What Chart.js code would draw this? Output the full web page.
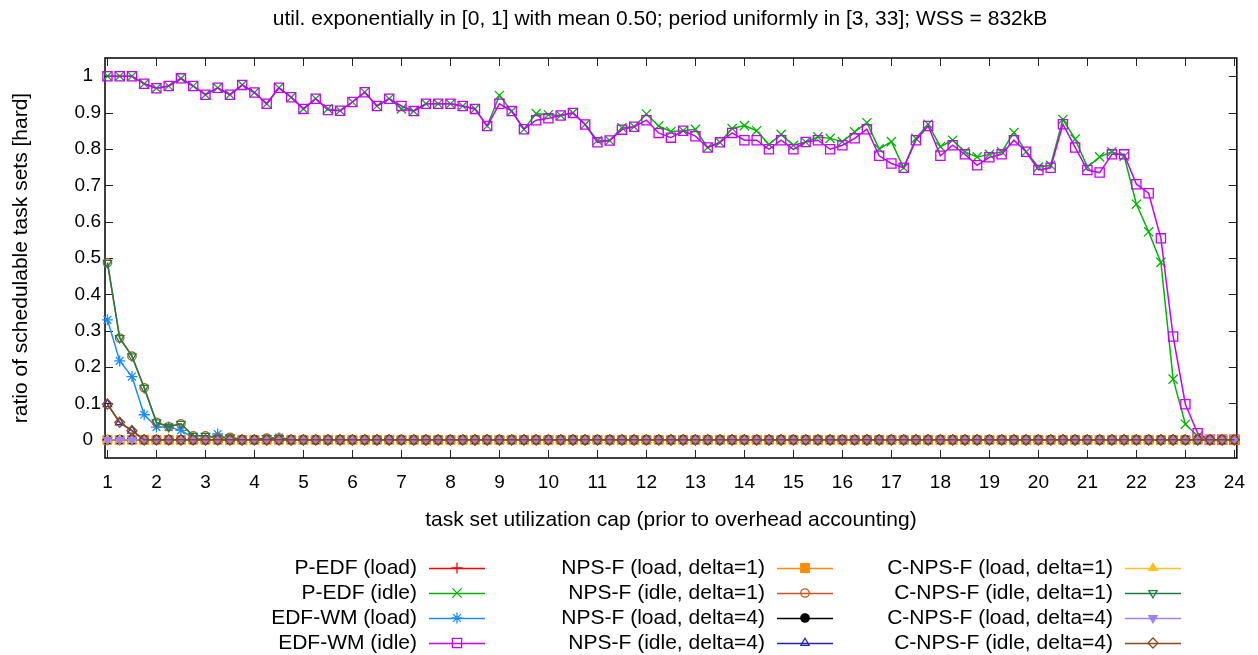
<!DOCTYPE html>
<html>
<head>
<meta charset="utf-8">
<script src="https://cdn.jsdelivr.net/npm/chart.js@4/dist/chart.umd.min.js"></script>
<style>
html,body{margin:0;padding:0;background:#fff;}
#wrap{width:1258px;height:655px;position:relative;}
</style>
</head>
<body>
<div id="wrap"><canvas id="c" width="1258" height="655"></canvas></div>
<script>
// ---------- data ----------
const titleText = "util. exponentially in [0, 1] with mean 0.50; period uniformly in [3, 33]; WSS = 832kB";
const xTitle = "task set utilization cap (prior to overhead accounting)";
const yTitle = "ratio of schedulable task sets [hard]";

const utilCaps = [1,1.25,1.5,1.75,2,2.25,2.5,2.75,3,3.25,3.5,3.75,4,4.25,4.5,4.75,5,5.25,5.5,5.75,6,6.25,6.5,6.75,7,7.25,7.5,7.75,8,8.25,8.5,8.75,9,9.25,9.5,9.75,10,10.25,10.5,10.75,11,11.25,11.5,11.75,12,12.25,12.5,12.75,13,13.25,13.5,13.75,14,14.25,14.5,14.75,15,15.25,15.5,15.75,16,16.25,16.5,16.75,17,17.25,17.5,17.75,18,18.25,18.5,18.75,19,19.25,19.5,19.75,20,20.25,20.5,20.75,21,21.25,21.5,21.75,22,22.25,22.5,22.75,23,23.25,23.5,23.75,24];

const xTicks = [1,2,3,4,5,6,7,8,9,10,11,12,13,14,15,16,17,18,19,20,21,22,23,24];
const yTicks = [0,0.1,0.2,0.3,0.4,0.5,0.6,0.7,0.8,0.9,1];

const zeros = [0,0,0,0,0,0,0,0,0,0,0,0,0,0,0,0,0,0,0,0,0,0,0,0,0,0,0,0,0,0,0,0,0,0,0,0,0,0,0,0,0,0,0,0,0,0,0,0,0,0,0,0,0,0,0,0,0,0,0,0,0,0,0,0,0,0,0,0,0,0,0,0,0,0,0,0,0,0,0,0,0,0,0,0,0,0,0,0,0,0,0,0,0];

const pedfIdle = [1,1,1,0.979,0.967,0.973,0.994,0.973,0.949,0.968,0.949,0.976,0.955,0.924,0.968,0.942,0.910,0.938,0.910,0.905,0.929,0.956,0.918,0.938,0.910,0.904,0.924,0.924,0.924,0.918,0.910,0.863,0.947,0.904,0.854,0.897,0.894,0.892,0.899,0.867,0.823,0.823,0.858,0.861,0.896,0.863,0.848,0.850,0.854,0.804,0.818,0.856,0.864,0.850,0.812,0.840,0.810,0.819,0.833,0.829,0.820,0.847,0.872,0.800,0.820,0.748,0.829,0.868,0.806,0.824,0.792,0.778,0.785,0.792,0.845,0.792,0.750,0.755,0.881,0.827,0.750,0.778,0.792,0.780,0.648,0.572,0.488,0.167,0.043,0.010,0,0,0];

const edfwmIdle = [1,1,1,0.979,0.967,0.973,0.994,0.973,0.949,0.968,0.949,0.976,0.955,0.924,0.968,0.942,0.910,0.938,0.907,0.905,0.929,0.956,0.918,0.938,0.918,0.904,0.924,0.924,0.924,0.918,0.910,0.863,0.924,0.904,0.854,0.879,0.884,0.892,0.899,0.867,0.818,0.823,0.853,0.861,0.879,0.844,0.831,0.850,0.835,0.804,0.818,0.844,0.824,0.824,0.799,0.824,0.799,0.819,0.824,0.799,0.810,0.829,0.854,0.781,0.760,0.748,0.824,0.863,0.781,0.810,0.785,0.755,0.777,0.785,0.824,0.792,0.742,0.748,0.868,0.804,0.742,0.735,0.785,0.785,0.703,0.678,0.554,0.284,0.098,0.018,0,0,0];

const edfwmLoad = [0.330,0.217,0.174,0.069,0.035,0.035,0.026,0.005,0,0.016,0,0,0,0,0.006,0,0,0,0,0,0,0,0,0,0,0,0,0,0,0,0,0,0,0,0,0,0,0,0,0,0,0,0,0,0,0,0,0,0,0,0,0,0,0,0,0,0,0,0,0,0,0,0,0,0,0,0,0,0,0,0,0,0,0,0,0,0,0,0,0,0,0,0,0,0,0,0,0,0,0,0,0,0];

const npsfIdleD1 = [0.487,0.280,0.230,0.143,0.048,0.036,0.044,0.011,0.011,0.005,0.007,0,0,0.005,0.005,0,0,0,0,0,0,0,0,0,0,0,0,0,0,0,0,0,0,0,0,0,0,0,0,0,0,0,0,0,0,0,0,0,0,0,0,0,0,0,0,0,0,0,0,0,0,0,0,0,0,0,0,0,0,0,0,0,0,0,0,0,0,0,0,0,0,0,0,0,0,0,0,0,0,0,0,0,0];

const cnpsfIdleD1 = [0.487,0.280,0.230,0.143,0.048,0.036,0.044,0.011,0.011,0.005,0.007,0,0,0.005,0.005,0,0,0,0,0,0,0,0,0,0,0,0,0,0,0,0,0,0,0,0,0,0,0,0,0,0,0,0,0,0,0,0,0,0,0,0,0,0,0,0,0,0,0,0,0,0,0,0,0,0,0,0,0,0,0,0,0,0,0,0,0,0,0,0,0,0,0,0,0,0,0,0,0,0,0,0,0,0];

const npsfIdleD4 = [0.098,0.048,0.025,0,0,0,0,0,0,0,0,0,0,0,0,0,0,0,0,0,0,0,0,0,0,0,0,0,0,0,0,0,0,0,0,0,0,0,0,0,0,0,0,0,0,0,0,0,0,0,0,0,0,0,0,0,0,0,0,0,0,0,0,0,0,0,0,0,0,0,0,0,0,0,0,0,0,0,0,0,0,0,0,0,0,0,0,0,0,0,0,0,0];

const cnpsfIdleD4 = [0.098,0.048,0.025,0,0,0,0,0,0,0,0,0,0,0,0,0,0,0,0,0,0,0,0,0,0,0,0,0,0,0,0,0,0,0,0,0,0,0,0,0,0,0,0,0,0,0,0,0,0,0,0,0,0,0,0,0,0,0,0,0,0,0,0,0,0,0,0,0,0,0,0,0,0,0,0,0,0,0,0,0,0,0,0,0,0,0,0,0,0,0,0,0,0];

const pedfLoad = zeros;
const npsfLoadD1 = zeros;
const npsfLoadD4 = zeros;
const cnpsfLoadD1 = zeros;
const cnpsfLoadD4 = zeros;

const seriesNames = [
  "P-EDF (load)", "P-EDF (idle)", "EDF-WM (load)", "EDF-WM (idle)",
  "NPS-F (load, delta=1)", "NPS-F (idle, delta=1)", "NPS-F (load, delta=4)", "NPS-F (idle, delta=4)",
  "C-NPS-F (load, delta=1)", "C-NPS-F (idle, delta=1)", "C-NPS-F (load, delta=4)", "C-NPS-F (idle, delta=4)"
];
const seriesValues = [pedfLoad, pedfIdle, edfwmLoad, edfwmIdle, npsfLoadD1, npsfIdleD1, npsfLoadD4, npsfIdleD4, cnpsfLoadD1, cnpsfIdleD1, cnpsfLoadD4, cnpsfIdleD4];

// ---------- styles ----------
const FONT = '"Liberation Sans", Arial, sans-serif';
const FS = 21;      // titles and key
const TFS = 19;     // tick labels
const styles = [
  {c:"#ff0000", ps:"cross",    r:5.5, fill:false, rot:0},
  {c:"#00b400", ps:"crossRot", r:6.5, fill:false, rot:0},
  {c:"#1a8cff", ps:"star",     r:5.5, fill:false, rot:0},
  {c:"#c400ff", ps:"rect",     r:6.5, fill:false, rot:0},
  {c:"#ff8c00", ps:"rect",     r:6,   fill:true,  rot:0},
  {c:"#c8561e", ps:"circle",   r:4.2, fill:false, rot:0},
  {c:"#000000", ps:"circle",   r:4.2, fill:true,  rot:0},
  {c:"#2424b4", ps:"triangle", r:4.8, fill:false, rot:0},
  {c:"#ffc020", ps:"triangle", r:4.8, fill:true,  rot:0},
  {c:"#1e7d46", ps:"triangle", r:4.8, fill:false, rot:180},
  {c:"#a080ff", ps:"triangle", r:4.8, fill:true,  rot:180},
  {c:"#8c4a14", ps:"rectRot",  r:5,   fill:false, rot:0}
];

const datasets = seriesValues.map((vals, i) => {
  const s = styles[i];
  return {
    label: seriesNames[i],
    data: utilCaps.map((x, k) => ({x: x, y: vals[k]})),
    borderColor: s.c,
    backgroundColor: s.c,
    borderWidth: 1.5,
    pointStyle: s.ps,
    pointRadius: s.r,
    pointHoverRadius: s.r,
    pointRotation: s.rot,
    pointBorderColor: s.c,
    pointBackgroundColor: s.fill ? s.c : "rgba(0,0,0,0)",
    pointBorderWidth: 1.3,
    tension: 0,
    fill: false,
    clip: false,
    order: seriesValues.length - i
  };
});

// ---------- plugin: frame, inward ticks, texts, legend ----------
const decor = {
  id: "decor",
  beforeDatasetsDraw(chart) {
    const ctx = chart.ctx, a = chart.chartArea;
    const xs = chart.scales.x, ys = chart.scales.y;
    ctx.save();
    ctx.strokeStyle = "#222";
    ctx.lineWidth = 1;
    const L = 8;
    ctx.beginPath();
    xTicks.forEach(v => {
      const px = Math.round(xs.getPixelForValue(v)) + 0.5;
      ctx.moveTo(px, a.bottom); ctx.lineTo(px, a.bottom - L);
      ctx.moveTo(px, a.top); ctx.lineTo(px, a.top + L);
    });
    yTicks.forEach(v => {
      const py = Math.round(ys.getPixelForValue(v)) + 0.5;
      ctx.moveTo(a.left, py); ctx.lineTo(a.left + L, py);
      ctx.moveTo(a.right, py); ctx.lineTo(a.right - L, py);
    });
    ctx.stroke();
    ctx.strokeStyle = "#000";
    ctx.lineWidth = 1.5;
    ctx.strokeRect(a.left, a.top, a.right - a.left, a.bottom - a.top);
    ctx.restore();
  },
  afterDraw(chart) {
    const ctx = chart.ctx, a = chart.chartArea;
    ctx.save();
    ctx.fillStyle = "#000";
    ctx.font = FS + "px " + FONT;
    ctx.textBaseline = "middle";
    ctx.textAlign = "center";
    ctx.fillText(titleText, 660, 19);
    ctx.fillText(xTitle, (a.left + a.right) / 2, 520);
    ctx.save();
    ctx.translate(21, (a.top + a.bottom) / 2);
    ctx.rotate(-Math.PI / 2);
    ctx.fillText(yTitle, 0, 0);
    ctx.restore();

    // legend
    chart.data.datasets.forEach((ds, i) => {
      const col = Math.floor(i / 4), row = i % 4;
      const mx = 457 + col * 348;
      const y = 568 + row * 25;
      ctx.textAlign = "right";
      ctx.fillStyle = "#000";
      ctx.fillText(ds.label, mx - 40, y);
      ctx.strokeStyle = ds.borderColor;
      ctx.lineWidth = 1.5;
      ctx.beginPath();
      ctx.moveTo(mx - 28, y + 0.5);
      ctx.lineTo(mx + 28, y + 0.5);
      ctx.stroke();
      ctx.fillStyle = ds.pointBackgroundColor;
      ctx.strokeStyle = ds.pointBorderColor;
      ctx.lineWidth = ds.pointBorderWidth;
      if (Chart.helpers && Chart.helpers.drawPoint) {
        Chart.helpers.drawPoint(ctx, {
          pointStyle: ds.pointStyle,
          rotation: ds.pointRotation,
          radius: ds.pointRadius,
          borderWidth: ds.pointBorderWidth
        }, mx, y);
      }
    });
    ctx.restore();
  }
};

new Chart(document.getElementById("c"), {
  type: "line",
  data: { datasets: datasets },
  plugins: [decor],
  options: {
    responsive: false,
    animation: false,
    events: [],
    layout: { padding: { left: 0, top: 58, right: 20, bottom: 157 } },
    plugins: { legend: { display: false }, title: { display: false }, tooltip: { enabled: false } },
    scales: {
      x: {
        type: "linear",
        min: 0.95, max: 24.05,
        grid: { display: false, drawTicks: false },
        border: { display: false },
        afterBuildTicks: (s) => { s.ticks = xTicks.map(v => ({ value: v })); },
        afterFit: (s) => { s.height = 40; },
        ticks: {
          autoSkip: false, maxRotation: 0,
          padding: 13,
          color: "#000",
          font: { family: FONT, size: TFS },
          callback: (v) => String(v)
        }
      },
      y: {
        type: "linear",
        min: -0.05, max: 1.05,
        grid: { display: false, drawTicks: false },
        border: { display: false },
        afterBuildTicks: (s) => { s.ticks = yTicks.map(v => ({ value: v })); },
        afterFit: (s) => { s.width = 105; },
        ticks: {
          autoSkip: false,
          crossAlign: "center",
          padding: 4,
          color: "#000",
          font: { family: FONT, size: TFS },
          callback: (v) => String(Math.round(v * 10) / 10)
        }
      }
    }
  }
});
</script>
</body>
</html>
